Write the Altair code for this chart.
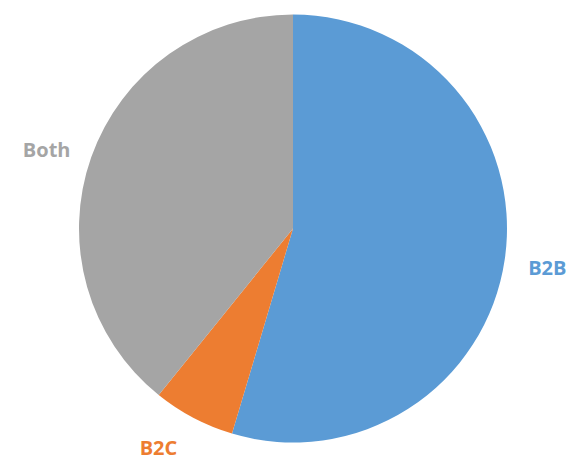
import altair as alt
import pandas as pd

categories = ["B2B", "B2C", "Both"]
values = [54.6, 6.2, 39.2]
order = [0, 1, 2]
colors = ["#5B9BD5", "#ED7D31", "#A5A5A5"]

df = pd.DataFrame({"cat": categories, "val": values, "ord": order})

tscale = alt.Scale(domain=[0, 100], range=[0, 6.283185307179586])
cscale = alt.Scale(domain=categories, range=colors)

stacked = (
    alt.Chart(df)
    .transform_stack(stack="val", as_=["v0", "v1"], groupby=[], sort=[alt.SortField("ord")])
    .transform_calculate(mid="(datum.v0 + datum.v1) / 2")
)

pie = stacked.mark_arc(outerRadius=214).encode(
    theta=alt.Theta("v0:Q", scale=tscale, stack=None),
    theta2="v1:Q",
    color=alt.Color("cat:N", scale=cscale, legend=None),
)

label_offsets = {"B2B": (0, 3), "B2C": (-15, -7), "Both": (-4, 8)}
layers = [pie]
for c in categories:
    dx, dy = label_offsets[c]
    layers.append(
        stacked.transform_filter(alt.datum.cat == c)
        .mark_text(radius=257, font="Open Sans", fontWeight="bold", fontSize=20, dx=dx, dy=dy)
        .encode(
            theta=alt.Theta("mid:Q", scale=tscale, stack=None),
            color=alt.Color("cat:N", scale=cscale, legend=None),
            text="cat:N",
        )
    )

chart = alt.layer(*layers).properties(
    width=554, height=455,
    autosize=alt.AutoSizeParams(type="none"),
    padding={"left": 16, "top": 1, "right": 0, "bottom": 0},
).configure_view(stroke=None)

chart.save("out.html", embed_options={"renderer": "svg", "actions": False})
